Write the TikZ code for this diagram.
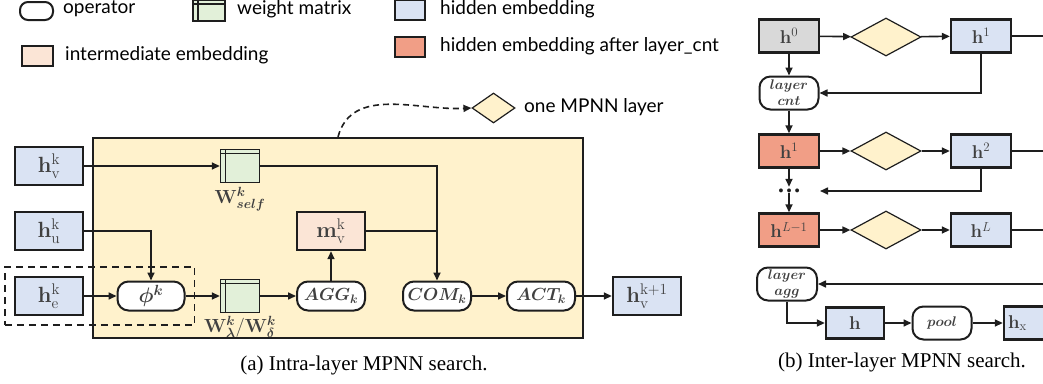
\RequirePackage{fix-cm}
\documentclass[tikz,border=0pt]{standalone}
\usepackage[no-math]{fontspec}
\usepackage{amsmath,bm}
\setmainfont{Liberation Serif}
\newfontfamily\legendfont{Lato}
\usetikzlibrary{arrows.meta,shapes.geometric,positioning,fit}

\definecolor{hidblue}{HTML}{DAE3F3}
\definecolor{wgreen}{HTML}{E2F0D9}
\definecolor{interpeach}{HTML}{FBE5D6}
\definecolor{cntred}{HTML}{F19E86}
\definecolor{layeryellow}{HTML}{FFF2CC}
\definecolor{startgray}{HTML}{D9D9D9}
\definecolor{rimgray}{HTML}{1E1E1E}
\definecolor{labgray}{HTML}{404040}

\tikzset{
  line/.style={line width=1.6pt, draw=rimgray},
  arr/.style={line, -{Triangle[length=8pt,width=7pt]}},
  emb/.style={draw=rimgray, line width=2.4pt, fill=hidblue, inner sep=0pt,
    minimum width=68pt, minimum height=38pt, text=labgray,
    font=\fontsize{22}{24}\selectfont},
  lay/.style={emb, minimum width=60pt, minimum height=33pt,
    font=\fontsize{18.5}{20}\selectfont},
  inter/.style={emb, fill=interpeach},
  opr/.style={draw=rimgray, line width=2pt, fill=white, rounded corners=11pt,
    inner sep=0pt, minimum width=68pt, minimum height=29pt, text=labgray,
    font=\fontsize{17.5}{18}\selectfont},
  smallopr/.style={opr, minimum width=59pt, minimum height=33pt,
    align=center, font=\fontsize{14}{16}\selectfont},
  wmat/.style={draw=rimgray, line width=1.4pt, fill=wgreen, inner sep=0pt,
    minimum width=39pt, minimum height=33pt,
    path picture={
      \draw[rimgray, line width=1.2pt]
        ([xshift=5pt]path picture bounding box.north west) --
        ([xshift=5pt]path picture bounding box.south west);
      \draw[rimgray, line width=1.2pt]
        ([yshift=-4pt]path picture bounding box.north west) --
        ([yshift=-4pt]path picture bounding box.north east);}},
  wlabel/.style={inner sep=0pt, text=labgray, font=\fontsize{19}{20}\selectfont},
  layerdia/.style={diamond, draw=rimgray, line width=1.2pt, fill=layeryellow,
    inner sep=0pt, minimum width=70pt, minimum height=38pt},
  legtxt/.style={anchor=west, inner sep=0pt, font=\legendfont\fontsize{19}{20}\selectfont},
  legbox/.style={draw=rimgray, line width=2pt, inner sep=0pt,
    minimum width=30pt, minimum height=20pt},
  captxt/.style={inner sep=0pt, font=\fontsize{21}{22}\selectfont}
}

\begin{document}
\begin{tikzpicture}[x=1pt,y=-1pt]
\useasboundingbox (0,0) rectangle (1043,383);
\clip (0,0) rectangle (1043,383);

% legend
\node[opr, minimum width=33pt, minimum height=18pt, rounded corners=8pt] (lgop) at (36.5,11) {};
\node[legtxt] (lgoptxt) at (63,9) {operator};
\node[wmat, minimum width=32pt, minimum height=21pt] (lgw) at (209,10.5) {};
\node[legtxt] (lgwtxt) at (237,9) {weight matrix};
\node[legbox, fill=interpeach, minimum width=31pt] (lgint) at (37.5,56) {};
\node[legtxt] (lginttxt) at (65,55) {intermediate embedding};
\node[legbox, fill=hidblue] (lghid) at (410,10) {};
\node[legtxt] (lghidtxt) at (440,9) {hidden embedding};
\node[legbox, fill=cntred] (lgred) at (410,47) {};
\node[legtxt] (lgredtxt) at (440,46) {hidden embedding after layer\_cnt};

% (a) intra-layer
\node[draw=rimgray, line width=2.2pt, fill=layeryellow, inner sep=0pt,
  minimum width=490pt, minimum height=200pt] (layer) at (338,238) {};
\node[layerdia, minimum width=43pt, minimum height=30pt] (lgdia) at (493.5,108) {};
\node[legtxt] (lgdiatxt) at (524,107) {one MPNN layer};
\draw[line, dashed, dash pattern=on 6pt off 4pt, -{Triangle[length=8pt,width=7pt]}]
  (layer.north) to[out=75,in=183] (lgdia.west);

\node[emb] (hv) at (49,166) {$\mathbf{h}^{\mathrm{k}}_{\mathrm{v}}$};
\node[emb] (hu) at (49,231) {$\mathbf{h}^{\mathrm{k}}_{\mathrm{u}}$};
\node[emb] (he) at (49,296) {$\mathbf{h}^{\mathrm{k}}_{\mathrm{e}}$};
\node[opr, minimum width=67pt, font=\fontsize{21}{22}\selectfont] (phi) at (151,296) {$\bm{\phi^{k}}$};
\node[draw=rimgray, line width=1.8pt, dashed, dash pattern=on 7pt off 5pt,
  inner sep=9pt, fit=(he)(phi)] (edgebox) {};

\node[wmat] (wself) at (240,166) {};
\node[wlabel, below=4pt of wself] (wselflab) {$\mathbf{W}^{\bm{k}}_{\bm{self}}$};
\node[wmat] (wlam) at (240,296) {};
\node[wlabel, below=3pt of wlam] (wlamlab) {$\mathbf{W}^{\bm{k}}_{\bm{\lambda}}/\mathbf{W}^{\bm{k}}_{\bm{\delta}}$};

\node[inter] (mv) at (331,231) {$\mathbf{m}^{\mathrm{k}}_{\mathrm{v}}$};
\node[opr] (agg) at (331,296) {$\bm{AGG_k}$};
\node[opr] (com) at (437,296) {$\bm{COM_k}$};
\node[opr] (act) at (541,296) {$\bm{ACT_k}$};
\node[emb] (hnext) at (647,296) {$\mathbf{h}^{\mathrm{k+1}}_{\mathrm{v}}$};

\draw[arr] (hv) -- (wself);
\draw[arr] (hu.east) -| (phi.north);
\draw[arr] (he) -- (phi);
\draw[arr] (phi) -- (wlam);
\draw[arr] (wlam) -- (agg);
\draw[arr] (agg) -- (mv);
\draw[arr] (wself.east) -| (com.north);
\draw[line] (mv.east) -- (mv.east -| com.north);
\draw[arr] (com) -- (act);
\draw[arr] (act) -- (hnext);

\node[captxt] (capa) at (364,365) {(a) Intra-layer MPNN search.};

% (b) inter-layer
\coordinate (rim) at (1060,0);
\node[lay, fill=startgray] (h0) at (789,36) {$\mathbf{h}^{0}$};
\node[layerdia] (dia1) at (886,37) {};
\node[lay] (hA) at (981,36) {$\mathbf{h}^{1}$};
\node[smallopr] (cnt) at (789,93) {$\bm{layer}$\\$\bm{cnt}$};
\node[lay, fill=cntred] (h1r) at (789,151) {$\mathbf{h}^{1}$};
\node[layerdia] (dia2) at (886,151) {};
\node[lay] (hB) at (981,151) {$\mathbf{h}^{2}$};
\node[inner sep=1pt, text height=4pt, text depth=0pt, text=rimgray,
  font=\fontsize{24}{24}\selectfont\bfseries] (dots) at (789,190) {\dots};
\coordinate (backB) at (820,191);
\node[lay, fill=cntred] (hLm) at (789,230) {$\mathbf{h}^{L-1}$};
\node[layerdia] (dia3) at (886,230) {};
\node[lay] (hL) at (981,230) {$\mathbf{h}^{L}$};
\node[smallopr, minimum width=60pt] (aggop) at (787,284) {$\bm{layer}$\\$\bm{agg}$};
\node[lay, minimum width=58pt, minimum height=31pt] (hfin) at (855,323) {$\mathbf{h}$};
\node[smallopr] (pool) at (942,323) {$\bm{pool}$};
\node[lay, text width=52pt, align=left] (hx) at (1034,323) {$\mathbf{h}_{\mathrm{x}}$};

\draw[arr] (h0) -- (dia1);
\draw[arr] (dia1) -- (hA);
\draw[line] (hA.east) -- (hA.east -| rim);
\draw[arr] (h0) -- (cnt);
\draw[arr] (hA.south) |- (cnt.east);
\draw[arr] (cnt) -- (h1r);
\draw[arr] (h1r) -- (dia2);
\draw[arr] (dia2) -- (hB);
\draw[line] (hB.east) -- (hB.east -| rim);
\draw[arr] (hB.south) |- (backB);
\draw[arr] (h1r) -- (dots);
\draw[arr] (dots) -- (hLm);
\draw[arr] (hLm) -- (dia3);
\draw[arr] (dia3) -- (hL);
\draw[line] (hL.east) -- (hL.east -| rim);
\draw[arr] (aggop.east -| rim) -- (aggop.east);
\draw[arr] (aggop.south) |- (hfin.west);
\draw[arr] (hfin) -- (pool);
\draw[arr] (pool) -- (hx);

\node[captxt] (capb) at (902,362) {(b) Inter-layer MPNN search.};
\end{tikzpicture}
\end{document}
